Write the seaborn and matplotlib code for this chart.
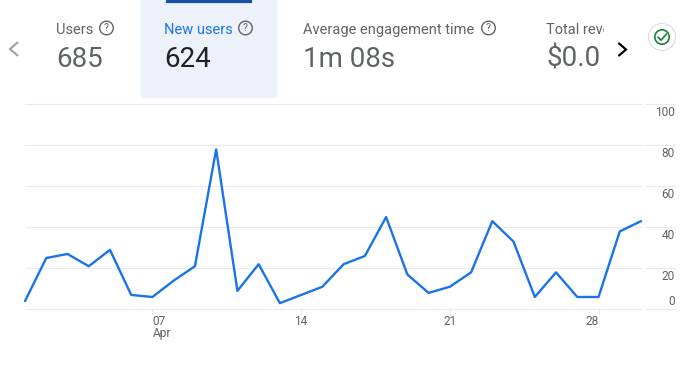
import matplotlib
matplotlib.use("Agg")
import matplotlib.pyplot as plt
from matplotlib.patches import Circle, FancyBboxPatch, Rectangle
import pandas as pd
import seaborn as sns

days = list(range(1, 31))
new_users = [4, 25, 27, 21, 29, 7, 6, 14, 21, 78, 9, 22, 3, 7, 11, 22,
             26, 45, 17, 8, 11, 18, 43, 33, 6, 18, 6, 6, 38, 43]
x_ticks = [7, 14, 21, 28]
x_labels = ["07\nApr", "14", "21", "28"]
x_aligns = ["left", "center", "center", "right"]
y_ticks = [0, 20, 40, 60, 80, 100]
metrics = ["Users", "New users", "Average engagement time", "Total reve"]
values = ["685", "624", "1m 08s", "$0.0"]

W, H = 698, 392
GRID = "#e8eaed"
GREY = "#5f6368"
BLUE = "#1a73e8"

sns.set_theme(style="white")
plt.rcParams["font.family"] = ["Roboto", "DejaVu Sans"]

fig = plt.figure(figsize=(W / 100, H / 100), dpi=100, facecolor="white")


def axes_px(x0, x1, y_top, y_bottom):
    return fig.add_axes([x0 / W, 1 - y_bottom / H, (x1 - x0) / W, (y_bottom - y_top) / H])


# Header overlay in pixel coordinates
ov = fig.add_axes([0, 0, 1, 1], zorder=0)
ov.set_xlim(0, W)
ov.set_ylim(H, 0)
ov.axis("off")

ov.add_patch(FancyBboxPatch((143.5, -10), 131, 105, boxstyle="round,pad=0,rounding_size=0.1",
                            fc="#edf2fa", ec="#edf2fa", lw=4.5, joinstyle="round"))
ov.add_patch(FancyBboxPatch((168, -6), 82, 7, boxstyle="round,pad=0", fc="#174ea6", ec="#174ea6", lw=3))

clip = Rectangle((0, 0), 603.5, H, transform=ov.transData)
xs = [56, 164, 303, 546]
label_cols = [GREY, BLUE, GREY, GREY]
value_cols = [GREY, "#202124", GREY, GREY]
for x, m, v, lc, vc in zip(xs, metrics, values, label_cols, value_cols):
    t1 = ov.text(x, 29.5, m, fontsize=10.5, color=lc, va="center", ha="left")
    t2 = ov.text(x, 66.5, v, fontsize=20, color=vc, va="baseline", ha="left")
    t1.set_clip_path(clip)
    t2.set_clip_path(clip)
    t1.set_clip_on(True)
    t2.set_clip_on(True)

for cx in [106.5, 245.5, 488.5]:
    ov.add_patch(Circle((cx, 28), 6.8, fc="none", ec=GREY, lw=1.0))
    ov.text(cx, 28.3, "?", fontsize=7.5, color=GREY, ha="center", va="center")

# Chevrons
ov.plot([17.5, 10, 17.5], [42.5, 49, 55.5], color="#9aa0a6", lw=1.5, solid_joinstyle="miter")
ov.plot([619, 626, 619], [43.5, 49.5, 55.5], color="#000000", lw=1.6, solid_joinstyle="miter")

# Status badge
ov.add_patch(Circle((662, 37), 13.5, fc="white", ec="#dadce0", lw=0.8))
ov.add_patch(Circle((662, 37), 7.2, fc="none", ec="#188038", lw=1.2))
ov.plot([658, 661, 666.5], [37.2, 40.2, 34], color="#188038", lw=1.2)

# Main chart
ax = axes_px(25, 641, 104.3, 309.3)
ax.set_zorder(2)
ax.patch.set_alpha(0)
df = pd.DataFrame({"day": days, "new_users": new_users})
sns.lineplot(data=df, x="day", y="new_users", ax=ax, color=BLUE, linewidth=1.7,
             errorbar=None, clip_on=False)
ax.set_xlim(1, 30)
ax.set_ylim(0, 100)
ax.set_xlabel("")
ax.set_ylabel("")
ax.set_yticks(y_ticks)
ax.tick_params(axis="y", left=False, labelleft=False)
ax.grid(axis="y", color=GRID, lw=0.8)
ax.set_axisbelow(True)
for s in ax.spines.values():
    s.set_visible(False)
ax.set_xticks(x_ticks)
ax.set_xticklabels(x_labels, fontsize=8.6, color=GREY, linespacing=0.9)
for lab, a in zip(ax.get_xticklabels(), x_aligns):
    lab.set_ha(a)
    lab.set_va("top")
ax.tick_params(axis="x", bottom=True, length=4.5, width=0.7, color=GRID, pad=-0.3)
for gl in ax.get_ygridlines():
    gl.set_clip_on(False)

# Right-hand y scale, a separate short strip
axr = axes_px(645, 675, 104.3, 309.3)
axr.set_zorder(1)
axr.patch.set_alpha(0)
axr.set_ylim(0, 100)
axr.set_xlim(0, 1)
axr.set_yticks(y_ticks)
axr.set_xticks([])
axr.tick_params(axis="y", left=False, labelleft=False)
axr.grid(axis="y", color=GRID, lw=0.8)
for gl in axr.get_ygridlines():
    gl.set_clip_on(False)
for s in axr.spines.values():
    s.set_visible(False)
for v in y_ticks:
    axr.annotate(str(v), (1, v), xycoords=("axes fraction", "data"),
                 xytext=(0, 0.8 if v == 0 else -1.4), textcoords="offset points",
                 ha="right", va="bottom" if v == 0 else "top",
                 fontsize=8.6, color=GREY)

fig.savefig("out.png", dpi=100, facecolor="white")
